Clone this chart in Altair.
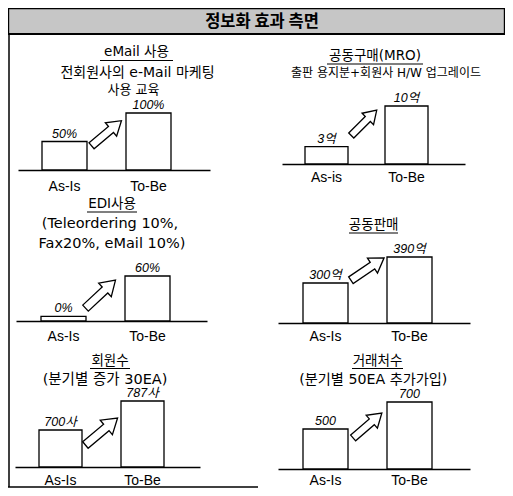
import altair as alt
import pandas as pd

W, H = 497, 480

# ---------------- data ----------------
main_title = "정보화 효과 측면"
titles = ["eMail 사용", "공동구매(MRO)", "EDI사용", "공동판매", "회원수", "거래처수"]
subtitles = [
    ["전회원사의 e-Mail 마케팅", "사용 교육"],
    ["출판 용지분+회원사 H/W 업그레이드"],
    ["(Teleordering 10%,", "Fax20%, eMail 10%)"],
    [],
    ["(분기별 증가 30EA)"],
    ["(분기별 50EA 추가가입)"],
]
categories = [
    ["As-Is", "To-Be"],
    ["As-is", "To-Be"],
    ["As-Is", "To-Be"],
    ["As-Is", "To-Be"],
    ["As-Is", "To-Be"],
    ["As-Is", "To-Be"],
]
values = [[50, 100], [3, 10], [0, 60], [300, 390], [700, 787], [500, 700]]
value_labels = [
    ["50%", "100%"],
    ["3억", "10억"],
    ["0%", "60%"],
    ["300억", "390억"],
    ["700사", "787사"],
    ["500", "700"],
]

# ---------------- layout (pixels, styling only) ----------------
layout = [
    dict(b0=10, b1=202, l0=34, l1=118, w=45, base=162, top=105, floor=0, dmax=100,
         lp=9, adx=0, ady=6, ang=40, alen=39,
         title=(128.5, 44), subs=[(129.5, 65, 14), (125.5, 82, 13)], ul=(92, 165, 52.5)),
    dict(b0=274, b1=457, l0=297, l1=377, w=43, base=156, top=98, floor=0, dmax=10,
         lp=6, adx=-2.5, ady=-3.5, ang=45, alen=36,
         title=(367, 47.5), subs=[(378, 65.3, 12)], ul=(319, 415, 56)),
    dict(b0=8, b1=199, l0=33, l1=117, w=45, base=313, top=268, floor=-7, dmax=60,
         lp=8, adx=-5, ady=-2, ang=43, alen=41,
         title=(104, 196), subs=[(102, 216, 14.5), (104, 236, 14.5)], ul=(79, 129, 204)),
    dict(b0=270, b1=462, l0=295, l1=379, w=45, base=315, top=249, floor=161.5, dmax=390,
         lp=6, adx=0, ady=-1, ang=34, alen=40,
         title=(365.7, 217), subs=[], ul=(341, 390, 225)),
    dict(b0=7, b1=192, l0=31, l1=113, w=43, base=459, top=393, floor=589, dmax=787,
         lp=6, adx=0, ady=16, ang=40, alen=42,
         title=(102, 352.5), subs=[(97, 372, 14.5)], ul=(82, 122, 360.5)),
    dict(b0=270, b1=462, l0=295, l1=379, w=45, base=461, top=394, floor=204, dmax=700,
         lp=4, adx=0, ady=10, ang=41, alen=38,
         title=(369.5, 352.5), subs=[(365.3, 372, 14.2)], ul=(344, 395, 360.5)),
]

ARROW = "M -1 -0.2 L 0.3 -0.2 L 0.3 -0.45 L 1 0 L 0.3 0.45 L 0.3 0.2 L -1 0.2 Z"
MIXED = "DejaVu Sans, Noto Sans CJK KR"
LABEL_FONT = "Liberation Sans, Noto Sans CJK KR"

one = pd.DataFrame({"a": [0]})


def txt(s, x, y, size, font=MIXED, weight="normal"):
    return alt.Chart(one).mark_text(
        text=s, fontSize=size, font=font, fontWeight=weight,
        align="center", baseline="middle", color="black"
    ).encode(x=alt.value(x), y=alt.value(y))


def rule(x0, x1, y0, y1, w=1.0):
    return alt.Chart(one).mark_rule(color="black", strokeWidth=w).encode(
        x=alt.value(x0), x2=alt.value(x1), y=alt.value(y0), y2=alt.value(y1)
    )


def panel(i):
    L = layout[i]
    cats = categories[i]
    df = pd.DataFrame({"cat": cats, "value": values[i], "label": value_labels[i]})
    step = L["l1"] - L["l0"]
    pin = 1 - L["w"] / step
    total = L["b1"] - L["b0"]
    span = step * (2 - pin)
    pout = (total / step - (2 - pin)) / 2
    align = (L["l0"] - L["b0"]) / (total - span)
    xs = alt.Scale(domain=cats, range=[L["b0"], L["b1"]],
                   paddingInner=pin, paddingOuter=pout, align=align)
    ys = alt.Scale(domain=[L["floor"], L["dmax"]], range=[L["base"], L["top"]],
                   zero=False, nice=False)
    ax = alt.Axis(orient="bottom", offset=L["base"] - H, labelPadding=L["lp"],
                  ticks=False, tickSize=0, domainColor="black", domainWidth=1.5,
                  labelColor="black", labelFont="Liberation Sans", labelFontSize=14,
                  labelAngle=0, grid=False, title="")
    xenc = alt.X("cat:N", scale=xs, axis=ax, sort=cats, title="")
    bars = alt.Chart(df).mark_bar(fill="white", stroke="black", strokeWidth=1.3).encode(
        x=xenc,
        y=alt.Y("value:Q", scale=ys, axis=None),
        y2=alt.datum(L["floor"]),
    )
    labels = alt.Chart(df).mark_text(
        baseline="bottom", dy=-1, fontStyle="italic", font=LABEL_FONT,
        fontSize=12.5, color="black"
    ).encode(
        x=xenc,
        y=alt.Y("value:Q", scale=ys, axis=None),
        text="label:N",
    )
    arrow = alt.Chart(df).transform_aggregate(mid="mean(value)").mark_point(
        shape=ARROW, filled=True, fill="white", stroke="black", strokeWidth=1.3,
        opacity=1, size=L["alen"] ** 2, angle=360 - L["ang"],
        xOffset=step / 2 + L["adx"], yOffset=L["ady"]
    ).encode(
        x=alt.XDatum(cats[0], type="nominal", scale=xs, axis=ax, title=""),
        y=alt.Y("mid:Q", scale=ys, axis=None),
    )
    return alt.layer(bars, labels, arrow)


deco = [
    alt.Chart(one).mark_rect(fill="#c6c6c6", stroke="black", strokeWidth=1.2).encode(
        x=alt.value(0.6), x2=alt.value(W - 0.6), y=alt.value(0.6), y2=alt.value(26)
    ),
    rule(0, W, 26, 26, 2),
    txt(main_title, 254, 13.5, 16.5, font="Noto Sans CJK KR", weight="bold"),
    rule(1, 1, 26, 479, 1.5),
    rule(0, 250, 479, 479, 1.5),
]

texts = []
for i, L in enumerate(layout):
    tx, ty = L["title"]
    texts.append(txt(titles[i], tx, ty, 13.5))
    x0, x1, uy = L["ul"]
    texts.append(rule(x0, x1, uy, uy, 1.2))
    for s, (sx, sy, fs) in zip(subtitles[i], L["subs"]):
        texts.append(txt(s, sx, sy, fs))

panels = [panel(i) for i in range(6)]

chart = alt.layer(*deco, *texts, *panels).resolve_scale(
    x="independent", y="independent"
).properties(
    width=W, height=H, padding=0, autosize=alt.AutoSizeParams(type="none")
).configure_view(strokeWidth=0)

chart.save("out.html", embed_options={"renderer": "svg", "actions": False})
